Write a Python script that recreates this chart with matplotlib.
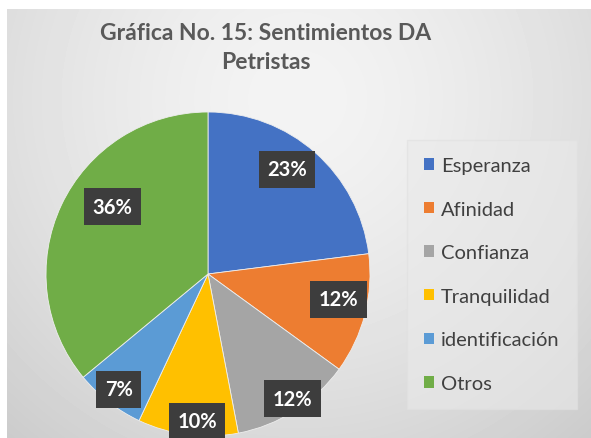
import numpy as np
import matplotlib as mpl
mpl.use('Agg')
import matplotlib.pyplot as plt
from matplotlib.patches import Patch

#
#--- data
#
labels  = ['Esperanza', 'Afinidad', 'Confianza', 'Tranquilidad', 'identificación', 'Otros']
values  = [23, 12, 12, 10, 7, 36]
colors  = ['#4472C4', '#ED7D31', '#A5A5A5', '#FFC000', '#5B9BD5', '#70AD47']
title   = 'Gráfica No. 15: Sentimientos DA\nPetristas'

#
#--- label placement (radius fraction, angle shift in deg) -- Excel "best fit" look
#
lab_rad   = [0.81, 0.82, 0.93, 0.91, 0.90, 0.72]
lab_shift = [4.4, 3.4, 1.6, 3.0, 0.0, -10.0]

W, H = 591, 439
plt.rcParams['font.family'] = ['Lato', 'DejaVu Sans']

fig = plt.figure(figsize=(W / 100, H / 100), dpi=100, facecolor='white')

#
#--- gradient background of the chart area
#
bg = fig.add_axes([7 / W, 0, 1 - 7 / W, 1 - 10 / H])
bg.set_axis_off()
yy, xx = np.mgrid[0:429, 0:584]
d = np.hypot(xx - 290, yy - 90) / 470.0
val = 0.955 - 0.17 * np.clip(d, 0, 1.2) ** 1.5
bg.imshow(val, cmap='gray', vmin=0, vmax=1, aspect='auto', interpolation='bilinear')
bg.set_zorder(0)

#
#--- pie
#
cx, cy, r = 208, 275, 162
ax = fig.add_axes([(cx - r) / W, (H - cy - r) / H, 2 * r / W, 2 * r / H])
ax.set_zorder(1)
wedges, _ = ax.pie(values, colors=colors, startangle=90, counterclock=False,
                   radius=1, wedgeprops=dict(linewidth=0.6, edgecolor='#eeeeee'))
ax.set_xlim(-1, 1)
ax.set_ylim(-1, 1)
ax.set_axis_off()
for w in wedges:
    w.set_clip_on(False)

total = float(sum(values))
for w, v, rf, sh in zip(wedges, values, lab_rad, lab_shift):
    mid = np.deg2rad(0.5 * (w.theta1 + w.theta2) + sh)
    ax.text(rf * np.cos(mid), rf * np.sin(mid), '%d%%' % round(100 * v / total),
            ha='center', va='center', color='white', fontsize=14.5, fontweight='bold',
            bbox=dict(boxstyle='square,pad=0.42', facecolor='#3d3d3d', edgecolor='none'),
            clip_on=False, zorder=5)

#
#--- title
#
fig.text(266 / W, 1 - 48 / H, title, ha='center', va='center', fontsize=16.5,
         fontweight='bold', color='#595959', linespacing=1.5)

#
#--- legend
#
handles = [Patch(facecolor=c, edgecolor='none') for c in colors]
leg = fig.legend(handles, labels, loc='upper left', bbox_to_anchor=(407 / W, 1 - 141 / H),
                 frameon=True, fontsize=14.5, handlelength=0.5, handleheight=0.5,
                 handletextpad=0.35, labelspacing=1.32, borderpad=0.85, borderaxespad=0,
                 fancybox=False)
leg.get_frame().set_facecolor('#eaeaea')
leg.get_frame().set_edgecolor('#e0e0e0')
leg.get_frame().set_alpha(0.6)
leg.set_zorder(2)
for t in leg.get_texts():
    t.set_color('#404040')

fig.savefig('out.png', dpi=100, facecolor='white')
